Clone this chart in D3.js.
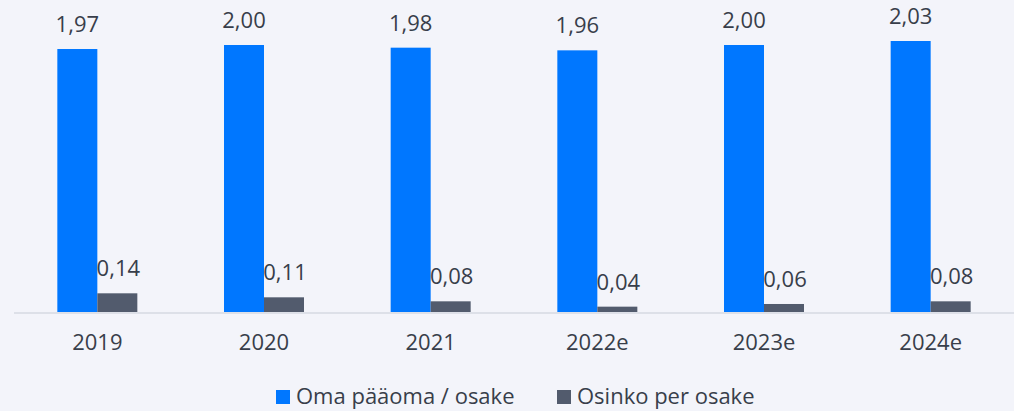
<!DOCTYPE html>
<html>
<head>
<meta charset="utf-8">
<script src="https://cdn.jsdelivr.net/npm/d3@7"></script>
<style>
  html, body { margin: 0; padding: 0; background: #f3f4fa; }
  svg { display: block; }
  text { font-family: "Open Sans", Lato, sans-serif; fill: #383e4a; }
</style>
</head>
<body>
<svg id="chart" width="1014" height="411"></svg>
<script>
const categories = ["2019", "2020", "2021", "2022e", "2023e", "2024e"];
const seriesNames = ["Oma pääoma / osake", "Osinko per osake"];
const equityPerShare = [1.97, 2.00, 1.98, 1.96, 2.00, 2.03];
const dividendPerShare = [0.14, 0.11, 0.08, 0.04, 0.06, 0.08];
const colors = ["#0077ff", "#525b6d"];

const W = 1014, H = 411;
const FS = 22;
const svg = d3.select("#chart");
svg.append("rect").attr("width", W).attr("height", H).attr("fill", "#f3f4fa");

const x = d3.scaleBand().domain(categories).range([14, 1014]).paddingInner(0.52).paddingOuter(0.26);
const xs = d3.scaleBand().domain([0, 1]).range([0, x.bandwidth()]);
const y = d3.scaleLinear().domain([0, 2.03]).range([312, 41]);

const fmt = v => d3.format(".2f")(v).replace(".", ",");

const series = [equityPerShare, dividendPerShare];

series.forEach((vals, si) => {
  const g = svg.append("g");
  g.selectAll("rect").data(vals).join("rect")
    .attr("x", (d, i) => x(categories[i]) + xs(si))
    .attr("y", d => y(d))
    .attr("width", xs.bandwidth())
    .attr("height", d => y(0) - y(d))
    .attr("fill", colors[si]);
  g.selectAll("text").data(vals).join("text")
    .attr("x", (d, i) => x(categories[i]) + xs(si) + xs.bandwidth() / 2 + (si === 1 ? 1 : 0))
    .attr("y", d => y(d) - 17)
    .attr("text-anchor", "middle")
    .attr("font-size", FS)
    .text(d => fmt(d));
});

// axis
const axis = d3.axisBottom(x).tickSize(0).tickPadding(0);
const ag = svg.append("g").attr("transform", `translate(0,${y(0)})`).call(axis);
ag.select(".domain").attr("stroke", "#dde0e8").attr("stroke-width", 2).attr("d", "M14,1H1014");
ag.selectAll(".tick text")
  .attr("y", 38)
  .attr("dy", 0)
  .attr("font-size", FS)
  .attr("font-family", "'Open Sans', Lato, sans-serif")
  .attr("fill", "#383e4a");

// legend
const legendX = [276, 557];
const lg = svg.append("g");
seriesNames.forEach((name, i) => {
  lg.append("rect").attr("x", legendX[i]).attr("y", 390).attr("width", 14).attr("height", 14).attr("fill", colors[i]);
  lg.append("text").attr("x", legendX[i] + 20).attr("y", 404).attr("font-size", FS).text(name);
});
</script>
</body>
</html>
